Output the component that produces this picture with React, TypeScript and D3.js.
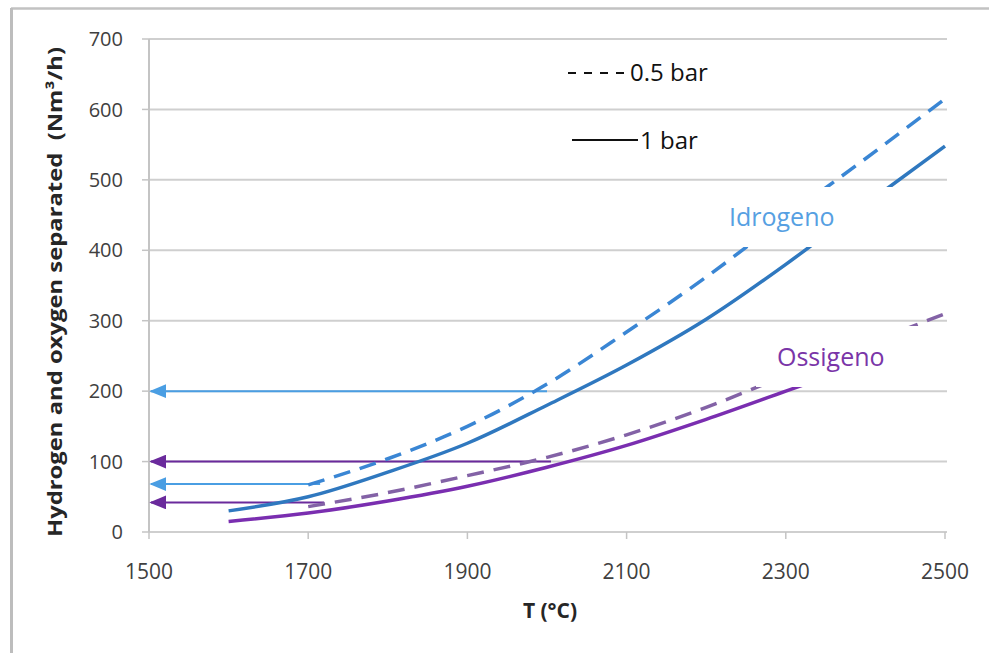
import React from 'react';
import * as d3 from 'd3';

// temperature (°C) and separated flow (Nm³/h)
const tempSolid = [1600, 1700, 1800, 1900, 2000, 2100, 2200, 2300, 2400, 2500];
const h2Solid = [30, 50, 85, 126, 180, 237, 302, 380, 465, 548];
const o2Solid = [15, 27, 44, 65, 92, 123, 160, 200, 240, 280];

const tempDashed = [1700, 1800, 1900, 2000, 2100, 2200, 2300, 2400, 2500];
const h2Dashed = [67, 104, 150, 210, 284, 362, 447, 530, 615];
const o2Dashed = [36, 56, 80, 106, 138, 177, 222, 266, 310];

// horizontal arrows: [value, end temperature, colour]
const arrows: [number, number, string][] = [
    [200, 2000, '#4a9ee3'],
    [100, 2005, '#6a2a9c'],
    [68, 1715, '#4a9ee3'],
    [42, 1720, '#6a2a9c'],
];

const xTicks = [1500, 1700, 1900, 2100, 2300, 2500];
const yTicks = [0, 100, 200, 300, 400, 500, 600, 700];

const W = 989;
const H = 653;
const font = "'Open Sans', sans-serif";

const App: React.FC = () => {
    const x = d3.scaleLinear().domain([1500, 2500]).range([149, 945]);
    const y = d3.scaleLinear().domain([0, 700]).range([532, 39]);

    const line = d3.line<[number, number]>()
        .x(d => x(d[0]))
        .y(d => y(d[1]))
        .curve(d3.curveMonotoneX);

    const pts = (t: number[], v: number[]) => t.map((d, i) => [d, v[i]] as [number, number]);

    return (
        <svg width={W} height={H} style={{ position: 'absolute', left: 0, top: 0 }}>
            <defs>
                <marker id="headBlue" viewBox="0 0 10 10" refX="9" refY="5" markerWidth="8.5" markerHeight="7" orient="auto" preserveAspectRatio="none">
                    <path d="M0,0 L10,5 L0,10 z" fill="#4a9ee3" />
                </marker>
                <marker id="headPurple" viewBox="0 0 10 10" refX="9" refY="5" markerWidth="8.5" markerHeight="7" orient="auto" preserveAspectRatio="none">
                    <path d="M0,0 L10,5 L0,10 z" fill="#6a2a9c" />
                </marker>
            </defs>
            <rect x={0} y={0} width={W} height={H} fill="#fff" />
            {/* frame: only top and left edges show */}
            <line x1={11} x2={W} y1={8.5} y2={8.5} stroke="#c2c2c2" strokeWidth={2.5} />
            <line x1={11.5} x2={11.5} y1={8} y2={H} stroke="#bdbdbd" strokeWidth={3} />

            {/* gridlines */}
            {yTicks.map(t => (
                <line key={t} x1={x(1500)} x2={x(2500) + 2} y1={y(t)} y2={y(t)} stroke="#cfcfcf" strokeWidth={2} />
            ))}
            <line x1={x(1500)} x2={x(1500)} y1={y(0)} y2={y(700)} stroke="#c4c4c4" strokeWidth={2} />
            {yTicks.map(t => (
                <line key={'yt' + t} x1={x(1500) - 7} x2={x(1500)} y1={y(t)} y2={y(t)} stroke="#c4c4c4" strokeWidth={1.5} />
            ))}
            {xTicks.map(t => (
                <line key={'xt' + t} x1={x(t)} x2={x(t)} y1={y(0)} y2={y(0) + 7} stroke="#c4c4c4" strokeWidth={1.5} />
            ))}

            {/* tick labels */}
            {yTicks.map(t => (
                <text key={'yl' + t} x={x(1500) - 26} y={y(t)} dy="0.36em" textAnchor="end"
                    fontFamily={font} fontSize={20} fill="#404040">{t}</text>
            ))}
            {xTicks.map(t => (
                <text key={'xl' + t} x={x(t)} y={y(0) + 47} textAnchor="middle"
                    fontFamily={font} fontSize={21} fill="#404040">{t}</text>
            ))}

            {/* axis titles */}
            <text x={550} y={618} textAnchor="middle" fontFamily={font} fontSize={21} fontWeight="bold" fill="#262626">T (°C)</text>
            <text transform="translate(62,292) rotate(-90)" textAnchor="middle" fontFamily={font} fontSize={19}
                fontWeight="bold" fill="#262626" textLength={490} lengthAdjust="spacingAndGlyphs">
                {'Hydrogen and oxygen separated\u00a0\u00a0(Nm³/h)'}
            </text>

            {/* arrows */}
            {arrows.map(([v, t, c], i) => (
                <line key={'a' + i} x1={x(t)} x2={x(1500) + 2} y1={y(v)} y2={y(v)} stroke={c} strokeWidth={2}
                    markerEnd={c === '#4a9ee3' ? 'url(#headBlue)' : 'url(#headPurple)'} />
            ))}

            {/* curves */}
            <path d={line(pts(tempDashed, o2Dashed)) || ''} fill="none" stroke="#8362a6" strokeWidth={3.5} strokeDasharray="17 10" />
            <path d={line(pts(tempSolid, o2Solid)) || ''} fill="none" stroke="#7a2eb0" strokeWidth={3.5} />
            <path d={line(pts(tempDashed, h2Dashed)) || ''} fill="none" stroke="#3a86d4" strokeWidth={3.5} strokeDasharray="17 10" />
            <path d={line(pts(tempSolid, h2Solid)) || ''} fill="none" stroke="#2f78bf" strokeWidth={3.5} />

            {/* label boxes hide the curves behind them */}
            <rect x={722} y={187} width={240} height={60} fill="#fff" />
            <text x={729} y={226} fontFamily={font} fontSize={25} fill="#56a0e2">Idrogeno</text>
            <rect x={756} y={326} width={206} height={61} fill="#fff" />
            <text x={777} y={366} fontFamily={font} fontSize={25} fill="#7a35a8">Ossigeno</text>

            {/* legend */}
            <line x1={568} x2={626} y1={73} y2={73} stroke="#111" strokeWidth={1.8} strokeDasharray="8 8" />
            <text x={630} y={81} fontFamily={font} fontSize={24} fill="#111">0.5 bar</text>
            <line x1={572} x2={638} y1={140} y2={140} stroke="#111" strokeWidth={1.8} />
            <text x={640} y={149} fontFamily={font} fontSize={24} fill="#111">1 bar</text>
        </svg>
    );
};

export default App;
